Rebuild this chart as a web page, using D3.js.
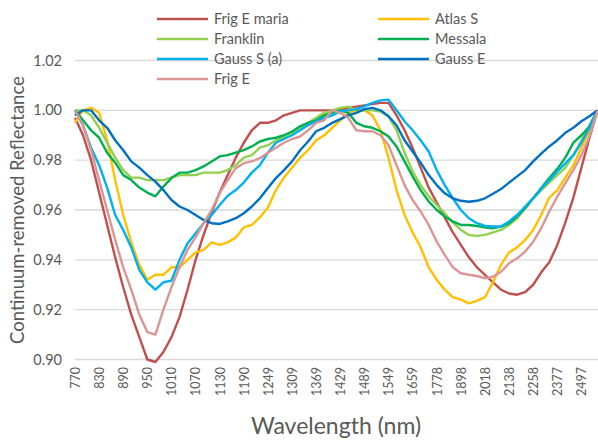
<!DOCTYPE html>
<html>
<head>
<meta charset="utf-8">
<script src="https://cdnjs.cloudflare.com/ajax/libs/d3/7.8.5/d3.min.js"></script>
<style>
body { margin: 0; background: #fff; }
text { font-family: Lato, "Open Sans", sans-serif; fill: #595959; }
</style>
</head>
<body>
<svg id="chart" width="598" height="443"></svg>
<script>
// band centres (nm), as printed on the category axis
var wavelengths = [770, 790, 810, 830, 850, 870, 890, 910, 930, 950, 970, 990, 1010, 1030, 1050, 1070, 1090, 1110, 1130, 1150,
    1170, 1190, 1210, 1230, 1249, 1269, 1289, 1309, 1329, 1349, 1369, 1389, 1409, 1429, 1449, 1469, 1489, 1509, 1529, 1549,
    1579, 1619, 1659, 1699, 1739, 1778, 1818, 1858, 1898, 1938, 1978, 2018, 2058, 2098, 2138, 2178, 2218, 2258, 2297, 2337,
    2377, 2417, 2457, 2497, 2537, 2577];

var frig_e_maria = [0.997, 0.990, 0.980, 0.967, 0.954, 0.941, 0.929, 0.918, 0.909, 0.900, 0.899, 0.903, 0.909, 0.917, 0.928, 0.940, 0.950, 0.959, 0.967, 0.974,
    0.981, 0.987, 0.992, 0.995, 0.995, 0.996, 0.998, 0.999, 1.000, 1.000, 1.000, 1.000, 1.000, 1.000, 1.001, 1.0015, 1.002, 1.0025, 1.003, 1.003,
    0.998, 0.992, 0.985, 0.977, 0.969, 0.963, 0.957, 0.951, 0.946, 0.941, 0.937, 0.934, 0.931, 0.928, 0.9265, 0.926, 0.927, 0.930, 0.935, 0.939,
    0.946, 0.955, 0.965, 0.977, 0.989, 1.000];
var atlas_s = [0.995, 1.000, 1.001, 0.999, 0.988, 0.972, 0.958, 0.947, 0.938, 0.932, 0.934, 0.934, 0.937, 0.937, 0.940, 0.943, 0.944, 0.947, 0.946, 0.947,
    0.949, 0.953, 0.954, 0.957, 0.961, 0.968, 0.973, 0.977, 0.981, 0.984, 0.988, 0.990, 0.993, 0.996, 0.999, 1.000, 1.000, 0.998, 0.992, 0.981,
    0.968, 0.958, 0.951, 0.945, 0.937, 0.932, 0.928, 0.925, 0.924, 0.9225, 0.9235, 0.925, 0.931, 0.938, 0.943, 0.945, 0.948, 0.952, 0.958, 0.965,
    0.968, 0.973, 0.978, 0.985, 0.992, 1.000];
var franklin = [1.000, 1.000, 0.998, 0.993, 0.987, 0.981, 0.976, 0.973, 0.973, 0.972, 0.972, 0.972, 0.973, 0.974, 0.974, 0.974, 0.975, 0.975, 0.975, 0.976,
    0.978, 0.981, 0.982, 0.985, 0.986, 0.988, 0.989, 0.991, 0.993, 0.995, 0.997, 0.999, 1.000, 1.001, 1.0015, 1.000, 1.000, 1.000, 0.9995, 0.9975,
    0.992, 0.983, 0.9755, 0.970, 0.9655, 0.962, 0.9587, 0.955, 0.952, 0.950, 0.9496, 0.950, 0.951, 0.952, 0.954, 0.9567, 0.9607, 0.9647, 0.968, 0.971,
    0.974, 0.977, 0.982, 0.988, 0.994, 1.000];
var messala = [1.000, 0.996, 0.992, 0.989, 0.983, 0.979, 0.974, 0.972, 0.969, 0.967, 0.9655, 0.9694, 0.9728, 0.975, 0.975, 0.976, 0.9775, 0.9795, 0.9815, 0.982,
    0.983, 0.984, 0.9855, 0.9875, 0.9885, 0.989, 0.990, 0.9915, 0.9936, 0.995, 0.996, 0.998, 0.999, 1.000, 0.999, 0.995, 0.9936, 0.993, 0.9916, 0.9895,
    0.9855, 0.9795, 0.9735, 0.968, 0.9634, 0.960, 0.9574, 0.9554, 0.954, 0.954, 0.9536, 0.953, 0.9527, 0.9533, 0.9547, 0.9574, 0.9607, 0.9647, 0.9688, 0.9728,
    0.9765, 0.981, 0.987, 0.990, 0.9935, 1.000];
var gauss_s_a = [1.000, 0.994, 0.985, 0.978, 0.969, 0.958, 0.952, 0.945, 0.936, 0.931, 0.928, 0.931, 0.9316, 0.940, 0.9466, 0.9507, 0.9547, 0.958, 0.962, 0.9657,
    0.968, 0.971, 0.975, 0.978, 0.983, 0.987, 0.9885, 0.990, 0.992, 0.994, 0.9956, 0.997, 0.998, 0.9996, 1.000, 1.0005, 1.0016, 1.003, 1.004, 1.0043,
    1.000, 0.9956, 0.992, 0.988, 0.9835, 0.976, 0.970, 0.9647, 0.960, 0.9567, 0.9547, 0.9536, 0.9534, 0.9534, 0.9554, 0.958, 0.9614, 0.9647, 0.9684, 0.972,
    0.9755, 0.9787, 0.982, 0.987, 0.993, 1.000];
var gauss_e = [0.998, 1.000, 1.000, 0.996, 0.993, 0.988, 0.984, 0.9795, 0.977, 0.974, 0.9714, 0.968, 0.964, 0.9614, 0.960, 0.958, 0.956, 0.9547, 0.9544, 0.9554,
    0.9567, 0.9587, 0.9614, 0.9647, 0.9688, 0.9728, 0.976, 0.9795, 0.984, 0.9875, 0.9916, 0.993, 0.995, 0.9965, 0.998, 0.999, 1.0005, 1.001, 1.000, 0.9976,
    0.994, 0.988, 0.9835, 0.979, 0.974, 0.970, 0.9667, 0.9647, 0.9637, 0.9633, 0.9637, 0.9647, 0.9665, 0.9684, 0.971, 0.9735, 0.976, 0.9795, 0.9826, 0.9855,
    0.988, 0.991, 0.993, 0.9956, 0.9976, 1.000];
var frig_e = [1.000, 0.994, 0.984, 0.972, 0.960, 0.948, 0.937, 0.928, 0.918, 0.911, 0.910, 0.920, 0.929, 0.937, 0.944, 0.949, 0.9547, 0.960, 0.9668, 0.972,
    0.9768, 0.9788, 0.9795, 0.9808, 0.983, 0.985, 0.987, 0.9885, 0.9895, 0.992, 0.995, 0.996, 1.000, 0.999, 0.997, 0.992, 0.9916, 0.9916, 0.990, 0.986,
    0.978, 0.970, 0.964, 0.9594, 0.954, 0.9473, 0.942, 0.937, 0.9346, 0.934, 0.9335, 0.9326, 0.9332, 0.9352, 0.9386, 0.9406, 0.9433, 0.9473, 0.9527, 0.9594,
    0.9654, 0.9708, 0.976, 0.982, 0.9895, 1.000];

var series_names = ["Frig E maria", "Atlas S", "Franklin", "Messala", "Gauss S (a)", "Gauss E", "Frig E"];
var series_values = [frig_e_maria, atlas_s, franklin, messala, gauss_s_a, gauss_e, frig_e];
var series_colors = ["#C0504D", "#FFC000", "#92D050", "#00B050", "#00B0F0", "#0070C0", "#D99694"];
var y_ticks = [0.90, 0.92, 0.94, 0.96, 0.98, 1.00, 1.02];
var label_step = 3; // excel shows one category label out of three

var svg = d3.select("#chart");

var x = d3.scalePoint().domain(wavelengths).range([75, 597.5]).padding(0);
var y = d3.scaleLinear().domain([0.90, 1.02]).range([359.5, 60.5]);

// horizontal gridlines
svg.append("g").selectAll("line")
    .data(y_ticks)
    .enter()
    .append("line")
    .attr("x1", 75).attr("x2", 598)
    .attr("y1", function (d) { return y(d); })
    .attr("y2", function (d) { return y(d); })
    .attr("stroke", "#D9D9D9")
    .attr("stroke-width", 1.3);

// y axis labels
var y_axis = d3.axisLeft(y).tickValues(y_ticks).tickFormat(d3.format(".2f")).tickSize(0).tickPadding(13);
svg.append("g").attr("transform", "translate(75,0)").call(y_axis)
    .call(function (g) { g.select(".domain").remove(); })
    .selectAll("text").style("font-size", "14.5px").style("font-family", "Lato").attr("fill", "#595959");

// x axis labels, rotated
var x_axis = d3.axisBottom(x)
    .tickValues(wavelengths.filter(function (d, i) { return i % label_step == 0 && i < wavelengths.length - 1; }))
    .tickSize(0);
var gx = svg.append("g").attr("transform", "translate(0,360)").call(x_axis);
gx.select(".domain").remove();
gx.selectAll("text")
    .attr("transform", "rotate(-90)")
    .attr("y", 0).attr("x", -7)
    .attr("dy", "0.35em")
    .style("text-anchor", "end")
    .style("font-size", "12.5px").style("font-family", "Lato").attr("fill", "#595959");

// one line per spectrum
var line = d3.line()
    .x(function (d, i) { return x(wavelengths[i]); })
    .y(function (d) { return y(d); });

svg.append("g").selectAll("path")
    .data(series_values)
    .enter()
    .append("path")
    .attr("d", line)
    .attr("fill", "none")
    .attr("stroke", function (d, i) { return series_colors[i]; })
    .attr("stroke-width", 2.4)
    .attr("stroke-linejoin", "round");

// legend, two columns filled row by row
var legend = svg.append("g").selectAll("g")
    .data(series_names)
    .enter()
    .append("g")
    .attr("transform", function (d, i) {
        return "translate(" + (157 + (i % 2) * 221) + "," + (19 + Math.floor(i / 2) * 20) + ")";
    });
legend.append("line")
    .attr("x1", 0).attr("x2", 51)
    .attr("stroke", function (d, i) { return series_colors[i]; })
    .attr("stroke-width", 2.4);
legend.append("text")
    .attr("x", 57).attr("dy", "0.35em")
    .style("font-size", "14.5px")
    .text(function (d) { return d; });

// axis titles
svg.append("text")
    .attr("transform", "translate(24,210)rotate(-90)")
    .attr("text-anchor", "middle")
    .style("font-size", "18.5px")
    .text("Continuum-removed Reflectance");

svg.append("text")
    .attr("x", 336).attr("y", 434)
    .attr("text-anchor", "middle")
    .style("font-size", "23px")
    .text("Wavelength (nm)");
</script>
</body>
</html>
